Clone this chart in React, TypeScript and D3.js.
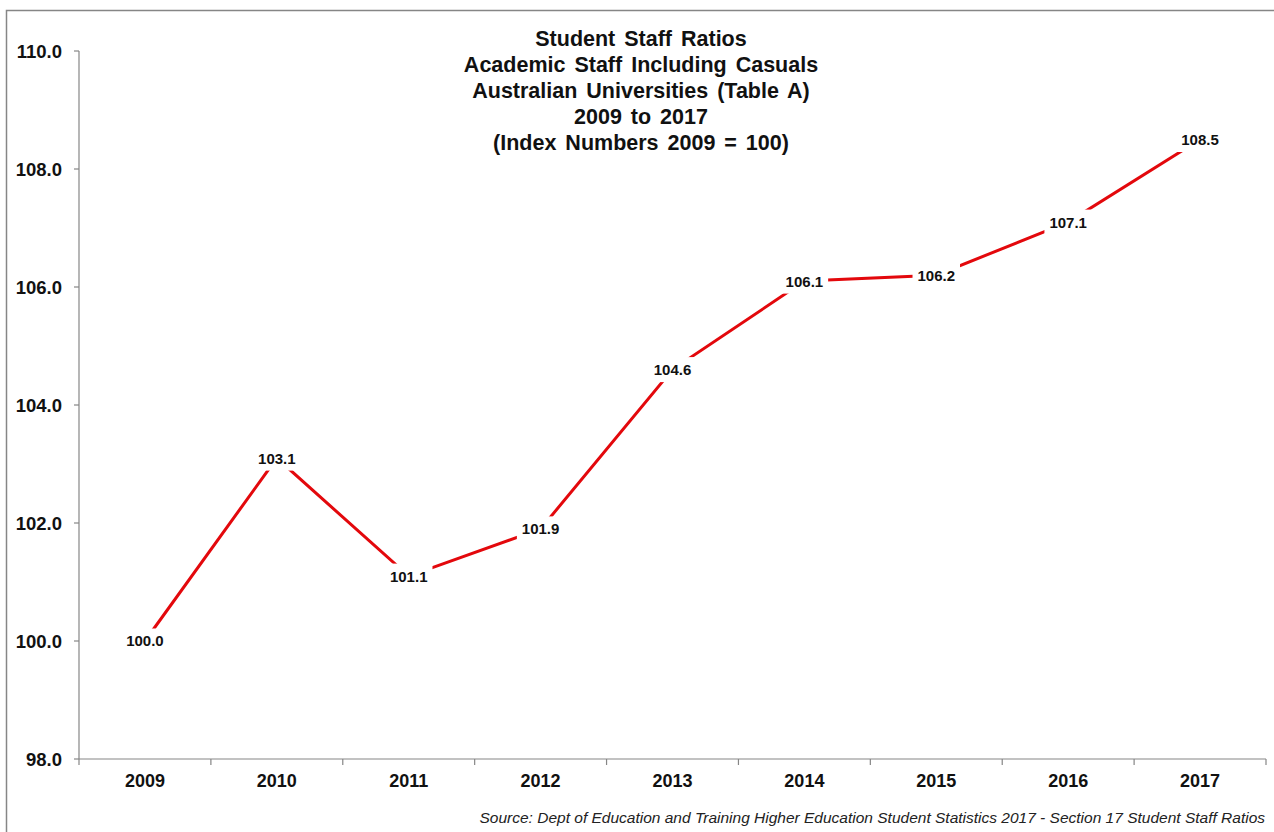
import React from "react";
import * as d3 from "d3";

const years = ["2009", "2010", "2011", "2012", "2013", "2014", "2015", "2016", "2017"];
const values = [100.0, 103.1, 101.1, 101.9, 104.6, 106.1, 106.2, 107.1, 108.5];
const yTicks = [98, 100, 102, 104, 106, 108, 110];
const titleLines = [
  "Student Staff Ratios",
  "Academic Staff Including Casuals",
  "Australian Universities (Table A)",
  "2009 to 2017",
  "(Index Numbers 2009 = 100)",
];
const sourceText =
  "Source: Dept of Education and Training Higher Education Student Statistics 2017 - Section 17 Student Staff Ratios";

const W = 1274;
const H = 832;
const left = 79;
const right = 1266;
const top = 51;
const bottom = 759;
const font = "Arial, 'Liberation Sans', sans-serif";

export default function App() {
  const x = d3.scaleBand<string>().domain(years).range([left, right]).padding(0);
  const y = d3.scaleLinear().domain([98, 110]).range([bottom, top]);
  const cx = (d: string) => (x(d) as number) + x.bandwidth() / 2;
  const line = d3
    .line<number>()
    .x((_, i) => cx(years[i]))
    .y((v) => y(v));
  const labelFs = 15;
  const tickEdges = years.map((d) => x(d) as number).concat([right]);

  return (
    <svg
      width={W}
      height={H}
      style={{ position: "absolute", left: 0, top: 0, background: "#fff" }}
      fontFamily={font}
    >
      <rect x={6.5} y={10.5} width={W + 20} height={H + 20} fill="#fff" stroke="#868686" strokeWidth={1.5} />
      {/* y axis */}
      <line x1={left} x2={left} y1={top} y2={bottom} stroke="#868686" strokeWidth={1.2} />
      {yTicks.map((t) => (
        <g key={t}>
          <line x1={left - 5} x2={left} y1={y(t)} y2={y(t)} stroke="#868686" strokeWidth={1.2} />
          <text x={62} y={y(t)} dy="0.36em" textAnchor="end" fontSize={18.5} fontWeight="bold" fill="#111">
            {t.toFixed(1)}
          </text>
        </g>
      ))}
      {/* x axis */}
      <line x1={left} x2={right} y1={bottom} y2={bottom} stroke="#868686" strokeWidth={1.2} />
      {tickEdges.map((e, i) => (
        <line key={i} x1={e} x2={e} y1={bottom} y2={bottom + 6} stroke="#868686" strokeWidth={1.2} />
      ))}
      {years.map((d) => (
        <text key={d} x={cx(d)} y={787} textAnchor="middle" fontSize={18} fontWeight="bold" fill="#111">
          {d}
        </text>
      ))}
      {/* title */}
      {titleLines.map((t, i) => (
        <text
          key={i}
          x={641}
          y={45.5 + i * 26.2}
          textAnchor="middle"
          fontSize={21.5}
          fontWeight="bold"
          fill="#111"
          wordSpacing={3}
        >
          {t}
        </text>
      ))}
      {/* line */}
      <path d={line(values) || ""} fill="none" stroke="#e3080c" strokeWidth={3} />
      {/* data labels */}
      {values.map((v, i) => {
        const s = v.toFixed(1);
        const w = s.length * labelFs * 0.5 + 10;
        const h = labelFs + 10;
        return (
          <g key={i}>
            <rect x={cx(years[i]) - w / 2} y={y(v) - h / 2} width={w} height={h} fill="#fff" />
            <text
              x={cx(years[i])}
              y={y(v)}
              dy="0.36em"
              textAnchor="middle"
              fontSize={labelFs}
              fontWeight="bold"
              fill="#111"
            >
              {s}
            </text>
          </g>
        );
      })}
      {/* source */}
      <text x={1265} y={823} textAnchor="end" fontSize={15.5} fontStyle="italic" fill="#222">
        {sourceText}
      </text>
    </svg>
  );
}
